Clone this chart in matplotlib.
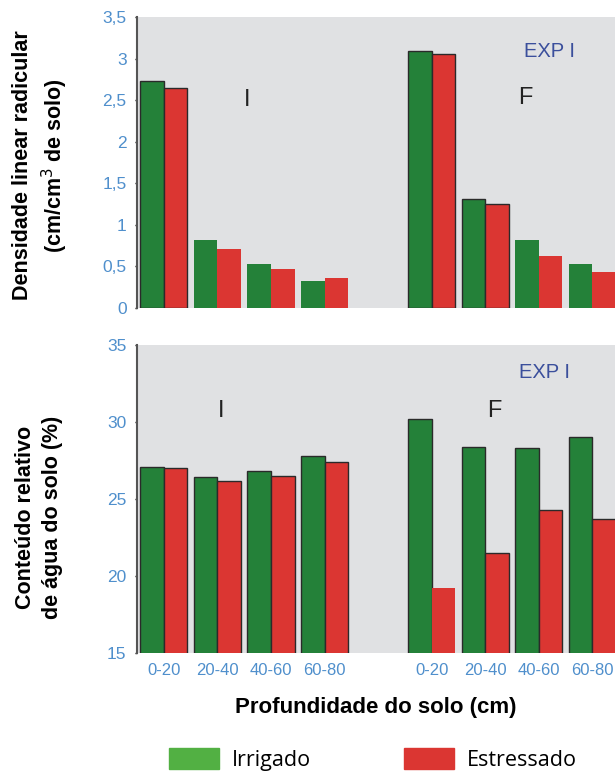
import matplotlib.pyplot as plt
from matplotlib.patches import Patch

plt.rcParams['font.family'] = ['Liberation Sans', 'DejaVu Sans']

# dados
profundidades = ['0-20', '20-40', '40-60', '60-80']
pos = [0, 1, 2, 3, 5, 6, 7, 8]   # I (0-3) e F (5-8)

raiz_irrigado = [2.73, 0.82, 0.53, 0.325, 3.09, 1.315, 0.82, 0.53]
raiz_estressado = [2.65, 0.71, 0.47, 0.36, 3.06, 1.25, 0.625, 0.43]

agua_irrigado = [27.1, 26.4, 26.8, 27.8, 30.2, 28.4, 28.3, 29.0]
agua_estressado = [27.0, 26.2, 26.5, 27.4, 19.2, 21.5, 24.3, 23.7]

verde = '#248139'
vermelho = '#db3632'
azul = '#4f8fcc'
fundo = '#e0e1e3'

fig = plt.figure(figsize=(6.15, 7.71), dpi=100)
ax1 = fig.add_axes([0.2228, 0.6005, 0.7772, 0.3775])
ax2 = fig.add_axes([0.2228, 0.153, 0.7772, 0.3995])

w = 0.44
borda1 = [1, 0, 0, 0, 1, 1, 0, 0]
borda2 = [1, 1, 1, 1, 1, 1, 1, 1]
borda2_est = [1, 1, 1, 1, 0, 1, 1, 1]

for i, p in enumerate(pos):
    ax1.bar(p - w / 2, raiz_irrigado[i], w, color=verde, edgecolor='#2a2a2a', linewidth=borda1[i])
    ax1.bar(p + w / 2, raiz_estressado[i], w, color=vermelho, edgecolor='#2a2a2a', linewidth=borda1[i])
    ax2.bar(p - w / 2, agua_irrigado[i], w, color=verde, edgecolor='#2a2a2a', linewidth=borda2[i])
    ax2.bar(p + w / 2, agua_estressado[i], w, color=vermelho, edgecolor='#2a2a2a', linewidth=borda2_est[i])

for ax in (ax1, ax2):
    ax.set_facecolor(fundo)
    ax.set_xlim(-0.5, 8.42)
    for s in ['top', 'right', 'bottom']:
        ax.spines[s].set_visible(False)
    ax.spines['left'].set_color('#555555')
    ax.spines['left'].set_linewidth(1.5)
    ax.tick_params(axis='y', length=1.5, width=1, color='black', pad=6, labelcolor=azul, labelsize=12.5)
    ax.tick_params(axis='x', length=0, labelcolor=azul, labelsize=12, pad=7)

ax1.set_ylim(0, 3.5)
y1 = [0, 0.5, 1, 1.5, 2, 2.5, 3, 3.5]
ax1.set_yticks(y1)
ax1.set_yticklabels(['0', '0,5', '1', '1,5', '2', '2,5', '3', '3,5'])
ax1.set_xticks([])
ax1.set_ylabel('Densidade linear radicular\n(cm/cm$^3$ de solo)', fontsize=15.5, fontweight='bold',
               linespacing=1.3)
ax1.yaxis.label.set_va('center')
ax1.yaxis.set_label_coords(-0.2, 0.49)

ax2.set_ylim(15, 35)
ax2.set_yticks([15, 20, 25, 30, 35])
ax2.set_xticks(pos)
ax2.set_xticklabels(profundidades * 2)
ax2.set_ylabel('Conteúdo relativo\nde água do solo (%)', fontsize=15.5, fontweight='bold', linespacing=1.4)
ax2.yaxis.label.set_va('center')
ax2.yaxis.set_label_coords(-0.205, 0.44)
ax2.set_xlabel('Profundidade do solo (cm)', fontsize=16, fontweight='bold', labelpad=14)

ax1.text(1.55, 2.5, 'I', fontsize=17, color='#222222', ha='center', va='center')
ax1.text(6.75, 2.52, 'F', fontsize=17, color='#222222', ha='center', va='center')
ax1.text(7.2, 3.08, 'EXP I', fontsize=14.5, color='#3b4f9c', ha='center', va='center')

ax2.text(1.07, 30.7, 'I', fontsize=17, color='#222222', ha='center', va='center')
ax2.text(6.17, 30.7, 'F', fontsize=17, color='#222222', ha='center', va='center')
ax2.text(7.1, 33.2, 'EXP I', fontsize=14.5, color='#3b4f9c', ha='center', va='center')

handles = [Patch(color='#52b043', label='Irrigado'), Patch(color=vermelho, label='Estressado')]
fig.legend(handles=handles, loc='lower left', bbox_to_anchor=(169 / 615, 0.0), ncol=2, frameon=False,
           borderpad=0, borderaxespad=0,
           handlelength=2.33, handleheight=1.1, handletextpad=0.6, columnspacing=4.3,
           prop={'family': 'Open Sans', 'size': 15.5})

plt.savefig('out.png', dpi=100)
